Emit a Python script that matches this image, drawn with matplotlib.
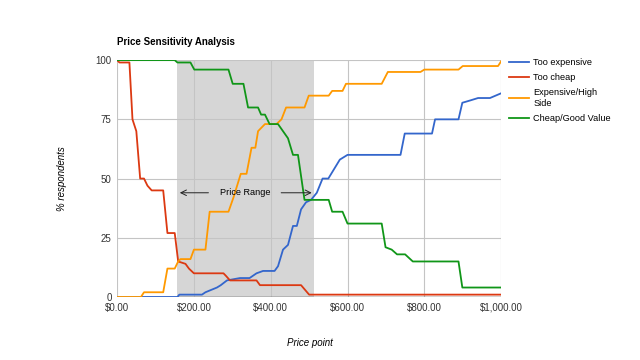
import matplotlib
matplotlib.use("Agg")
import matplotlib.pyplot as plt
from matplotlib.ticker import FuncFormatter

plt.rcParams['font.family'] = ['Liberation Sans', 'DejaVu Sans']

# values (price, % respondents)
too_exp_x = [0, 157, 162, 221, 230, 260, 270, 286, 320, 345, 363, 380, 410, 419, 432, 445, 458, 468,
             479, 492, 505, 520, 535, 550, 565, 580, 600, 738, 749, 820, 828, 889, 899, 920, 940, 971, 1000]
too_exp_y = [0, 0, 1, 1, 2, 4, 5, 7, 8, 8, 10, 11, 11, 13, 20, 22, 30, 30,
             37, 40, 41, 44, 50, 50, 54, 58, 60, 60, 69, 69, 75, 75, 82, 83, 84, 84, 86]

too_cheap_x = [0, 6, 32, 40, 50, 60, 70, 79, 90, 120, 131, 150, 159, 178, 187, 200, 277, 283, 294,
               363, 372, 479, 500, 1000]
too_cheap_y = [100, 99, 99, 75, 70, 50, 50, 47, 45, 45, 27, 27, 15, 14, 12, 10, 10, 9, 7,
               7, 5, 5, 1, 1]

exp_high_x = [0, 62, 70, 120, 131, 150, 159, 165, 191, 200, 230, 241, 290, 303, 322, 337, 350, 360,
              367, 385, 415, 428, 440, 488, 499, 551, 560, 587, 596, 689, 705, 790, 800, 889, 900, 992, 1000]
exp_high_y = [0, 0, 2, 2, 12, 12, 15, 16, 16, 20, 20, 36, 36, 42, 52, 52, 63, 63,
              70, 73, 73, 75, 80, 80, 85, 85, 87, 87, 90, 90, 95, 95, 96, 96, 97.5, 97.5, 99.5]

good_value_x = [0, 150, 157, 191, 201, 290, 301, 329, 341, 367, 375, 385, 397, 419, 432, 445, 458, 471,
                488, 551, 560, 587, 600, 689, 699, 715, 729, 750, 770, 889, 899, 1000]
good_value_y = [100, 100, 99, 99, 96, 96, 90, 90, 80, 80, 77, 77, 73, 73, 70, 67, 60, 60,
                41, 41, 36, 36, 31, 31, 21, 20, 18, 18, 15, 15, 4, 4]

range_lo, range_hi = 156, 514

fig = plt.figure(figsize=(6.4, 3.6), dpi=100)
ax = fig.add_axes([0.183, 0.175, 0.600, 0.658])

ax.axvspan(range_lo, range_hi, color="#d6d6d6", zorder=0, lw=0)
ax.plot(too_exp_x, too_exp_y, color="#3366cc", lw=1.3, label="Too expensive", zorder=3)
ax.plot(too_cheap_x, too_cheap_y, color="#dc3912", lw=1.3, label="Too cheap", zorder=3)
ax.plot(exp_high_x, exp_high_y, color="#ff9900", lw=1.3, label="Expensive/High\nSide", zorder=3)
ax.plot(good_value_x, good_value_y, color="#109618", lw=1.3, label="Cheap/Good Value", zorder=3)

ax.set_xlim(0, 1000)
ax.set_ylim(0, 100)
ax.set_xticks([0, 200, 400, 600, 800, 1000])
ax.set_yticks([0, 25, 50, 75, 100])
ax.xaxis.set_major_formatter(FuncFormatter(lambda v, p: "${:,.2f}".format(v)))
ax.grid(True, color="#c4c4c4", lw=0.8, zorder=1)
ax.set_axisbelow(True)
for s in ax.spines.values():
    s.set_visible(False)
ax.axhline(0, color="#333333", lw=1, zorder=2)
ax.tick_params(length=0, labelsize=7, colors="#333333", pad=4)

# price range label with arrows
ax.annotate("", xy=(range_lo, 44), xytext=(245, 44),
            arrowprops=dict(arrowstyle="->", color="#222222", lw=0.7), zorder=4)
ax.annotate("", xy=(range_hi, 44), xytext=(420, 44),
            arrowprops=dict(arrowstyle="->", color="#222222", lw=0.7), zorder=4)
ax.text(333, 44, "Price Range", ha="center", va="center", fontsize=6.6, zorder=4)

fig.text(0.183, 0.875, "Price Sensitivity Analysis", fontsize=7, fontweight="bold")
fig.text(0.097, 0.505, "% respondents", rotation=90, fontsize=7, style="italic",
         ha="center", va="center")
fig.text(0.484, 0.047, "Price point", fontsize=7, style="italic", ha="center", va="center")

ax.legend(loc="upper left", bbox_to_anchor=(1.0, 1.045), frameon=False, fontsize=6.6,
          handlelength=2.1, handletextpad=0.5, labelspacing=0.68)

fig.savefig("out.png", dpi=100)
